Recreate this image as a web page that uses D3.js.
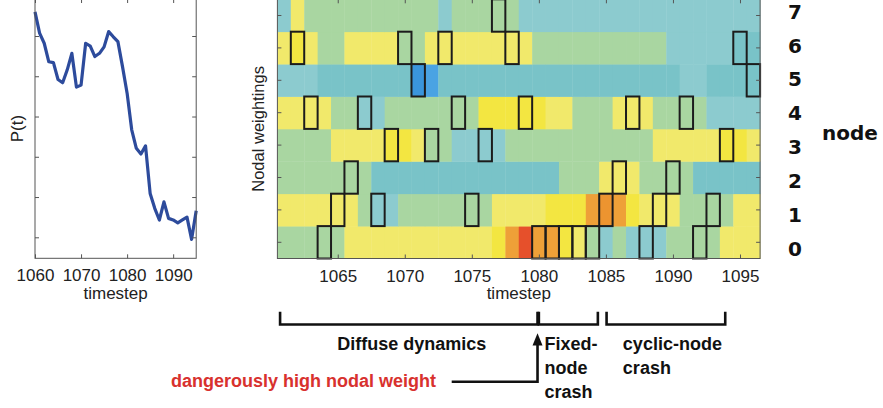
<!DOCTYPE html>
<html>
<head>
<meta charset="utf-8">
<script src="https://cdn.jsdelivr.net/npm/d3@7"></script>
<style>
  html, body { margin: 0; padding: 0; background: #fff; }
  svg { display: block; }
  text { font-family: "Liberation Sans", Arial, sans-serif; }
</style>
</head>
<body>
<svg id="chart" width="883" height="408"></svg>
<script>
// ---------- data ----------
// timesteps of the nodal-weight map
const timesteps = d3.range(1061, 1097);
const nodes = [0, 1, 2, 3, 4, 5, 6, 7];

// nodal weight per timestep (1061..1096), one array per node
const node0 = [0.40,0.40,0.40,0.40,0.40,0.55,0.55,0.55,0.55,0.55,0.55,0.55,0.55,0.55,0.55,0.55,0.62,0.80,0.95,0.80,0.80,0.62,0.55,0.40,0.25,0.40,0.25,0.25,0.25,0.40,0.40,0.40,0.40,0.55,0.55,0.55];
const node1 = [0.55,0.55,0.55,0.55,0.55,0.55,0.40,0.25,0.25,0.40,0.40,0.40,0.40,0.40,0.40,0.40,0.55,0.55,0.55,0.55,0.62,0.62,0.62,0.80,0.84,0.80,0.62,0.55,0.55,0.55,0.40,0.40,0.40,0.40,0.55,0.55];
const node2 = [0.40,0.40,0.40,0.40,0.40,0.40,0.40,0.20,0.20,0.20,0.20,0.20,0.20,0.20,0.20,0.20,0.20,0.20,0.20,0.20,0.20,0.40,0.40,0.40,0.55,0.55,0.55,0.40,0.40,0.40,0.40,0.20,0.20,0.20,0.20,0.20];
const node3 = [0.40,0.40,0.40,0.40,0.55,0.55,0.55,0.55,0.62,0.62,0.55,0.40,0.40,0.25,0.25,0.25,0.25,0.40,0.40,0.40,0.40,0.40,0.40,0.40,0.40,0.40,0.40,0.40,0.55,0.55,0.55,0.55,0.55,0.62,0.62,0.55];
const node4 = [0.55,0.55,0.55,0.55,0.40,0.40,0.25,0.25,0.40,0.40,0.40,0.40,0.40,0.40,0.40,0.62,0.62,0.62,0.62,0.62,0.55,0.55,0.40,0.40,0.40,0.55,0.55,0.55,0.40,0.40,0.40,0.40,0.25,0.25,0.25,0.25];
const node5 = [0.25,0.25,0.25,0.20,0.20,0.20,0.20,0.20,0.20,0.20,0.05,0.08,0.20,0.20,0.20,0.20,0.20,0.20,0.20,0.20,0.20,0.20,0.20,0.20,0.20,0.20,0.20,0.20,0.20,0.20,0.25,0.25,0.20,0.20,0.20,0.20];
const node6 = [0.55,0.62,0.55,0.40,0.40,0.55,0.55,0.55,0.55,0.40,0.40,0.55,0.55,0.55,0.55,0.55,0.55,0.55,0.55,0.40,0.40,0.40,0.40,0.40,0.40,0.40,0.40,0.40,0.40,0.25,0.25,0.25,0.25,0.25,0.20,0.20];
const node7 = [0.25,0.55,0.40,0.40,0.40,0.40,0.40,0.40,0.40,0.40,0.40,0.40,0.25,0.40,0.40,0.40,0.40,0.40,0.25,0.25,0.25,0.25,0.25,0.25,0.25,0.25,0.25,0.25,0.25,0.25,0.25,0.25,0.25,0.25,0.25,0.25];
const weights = [node0, node1, node2, node3, node4, node5, node6, node7];

// node outlined at each timestep (null: none)
const activeNode = [null,6,4,0,1,2,4,1,3,6,5,3,6,4,1,3,7,6,4,0,0,0,0,0,1,2,4,0,1,2,4,0,1,3,6,5];

// colour map for the weights
const weightStops  = [0.05, 0.08, 0.20, 0.25, 0.40, 0.55, 0.62, 0.80, 0.84, 0.95];
const weightColors = ["#3a95dc","#4aa3e3","#79c3c8","#8ccbcf","#a9d6a1","#f1e96b","#f3e641","#eea038","#ec9430","#e6502b"];

// P(t) for timesteps 1060..1095
const pTimesteps = d3.range(1060, 1096);
const pValues = [0.760,0.707,0.682,0.636,0.634,0.592,0.584,0.616,0.657,0.573,0.578,0.682,0.675,0.649,0.657,0.673,0.711,0.698,0.686,0.624,0.558,0.467,0.421,0.407,0.427,0.309,0.272,0.243,0.288,0.247,0.243,0.236,0.243,0.250,0.195,0.266];

// tick values
const pYTicks = [0.2, 0.3, 0.4, 0.5, 0.6, 0.7];
const pXTicks = [1060, 1070, 1080, 1090];
const mapXTicks = [1065, 1070, 1075, 1080, 1085, 1090, 1095];

// dynamical phases, as timestep spans
const phaseNames = [["Diffuse dynamics"], ["Fixed-", "node", "crash"], ["cyclic-node", "crash"]];
const phaseFrom = [1060.7, 1080.0, 1085.05];
const phaseTo   = [1079.9, 1084.4, 1093.9];
const warningText = "dangerously high nodal weight";

// ---------- drawing ----------
const svg = d3.select("#chart");
const frameColor = "#555";
const tickFont = 17;

function styleAxis(g) {
  g.select(".domain").remove();
  g.selectAll(".tick line").attr("stroke", frameColor);
  g.selectAll(".tick text")
    .attr("fill", "#222")
    .style("font-size", tickFont + "px")
    .style("font-family", "'Liberation Sans', Arial, sans-serif");
}

// ----- left panel: P(t) -----
const L = { left: 35, right: 196.2, top: -1, bottom: 258.3 };
const px = d3.scaleLinear().domain([1060, 1095]).range([L.left, L.right]);
const py = d3.scaleLinear().domain([0.2, 0.7]).range([237.3, 36]);

const left = svg.append("g");

left.append("path")
  .datum(pTimesteps.map((t, i) => [t, pValues[i]]))
  .attr("fill", "none")
  .attr("stroke", "#2d4b9c")
  .attr("stroke-width", 3.2)
  .attr("stroke-linejoin", "round")
  .attr("d", d3.line().x(d => px(d[0])).y(d => py(d[1])));

left.append("g").attr("transform", `translate(0,${L.bottom})`)
  .call(d3.axisBottom(px).tickValues(pXTicks).tickFormat(d3.format("d")).tickSize(-4).tickPadding(11))
  .call(styleAxis);
left.append("g").attr("transform", `translate(0,${L.top})`)
  .call(d3.axisTop(px).tickValues(pXTicks).tickFormat("").tickSize(-4))
  .call(styleAxis);
left.append("g").attr("transform", `translate(${L.left},0)`)
  .call(d3.axisLeft(py).tickValues(pYTicks).tickFormat("").tickSize(-4))
  .call(styleAxis);
left.append("g").attr("transform", `translate(${L.right},0)`)
  .call(d3.axisRight(py).tickValues(pYTicks).tickFormat("").tickSize(-4))
  .call(styleAxis);

left.append("rect")
  .attr("x", L.left).attr("y", L.top)
  .attr("width", L.right - L.left).attr("height", L.bottom - L.top)
  .attr("fill", "none").attr("stroke", frameColor).attr("stroke-width", 1);

left.append("text")
  .attr("transform", `translate(23,${(L.top + L.bottom) / 2}) rotate(-90)`)
  .attr("text-anchor", "middle")
  .style("font-size", "17px").attr("fill", "#222")
  .text("P(t)");

left.append("text")
  .attr("x", (L.left + L.right) / 2).attr("y", 299)
  .attr("text-anchor", "middle")
  .style("font-size", "17px").attr("fill", "#222")
  .text("timestep");

// ----- right panel: nodal-weight map -----
const M = { left: 277.4, right: 760.1, top: -0.7, bottom: 258.5 };
const mx = d3.scaleLinear().domain([1060.5, 1096.5]).range([M.left, M.right]);
const my = d3.scaleBand().domain(nodes.slice().reverse()).range([M.top, M.bottom]).padding(0);
const color = d3.scaleLinear().domain(weightStops).range(weightColors);

const map = svg.append("g");

const cells = [];
nodes.forEach(n => {
  timesteps.forEach((t, i) => cells.push({ node: n, t: t, w: weights[n][i] }));
});

map.append("g").selectAll("rect")
  .data(cells)
  .join("rect")
  .attr("x", d => mx(d.t - 0.5))
  .attr("y", d => my(d.node))
  .attr("width", d => mx(d.t + 0.5) - mx(d.t - 0.5) + 0.4)
  .attr("height", my.bandwidth() + 0.4)
  .attr("fill", d => color(d.w));

const marks = timesteps
  .map((t, i) => ({ t: t, node: activeNode[i] }))
  .filter(d => d.node !== null);

map.append("g").selectAll("rect")
  .data(marks)
  .join("rect")
  .attr("x", d => mx(d.t - 0.5))
  .attr("y", d => my(d.node))
  .attr("width", d => mx(d.t + 0.5) - mx(d.t - 0.5))
  .attr("height", my.bandwidth())
  .attr("fill", "none")
  .attr("stroke", "#1c1c1c")
  .attr("stroke-width", 2);

map.append("g").attr("transform", `translate(0,${M.bottom})`)
  .call(d3.axisBottom(mx).tickValues(mapXTicks).tickFormat(d3.format("d")).tickSize(-4).tickPadding(11))
  .call(styleAxis);
map.append("g").attr("transform", `translate(0,${M.top})`)
  .call(d3.axisTop(mx).tickValues(mapXTicks).tickFormat("").tickSize(-4))
  .call(styleAxis);
map.append("g").attr("transform", `translate(${M.left},0)`)
  .call(d3.axisLeft(my).tickFormat("").tickSize(-4))
  .call(styleAxis);
map.append("g").attr("transform", `translate(${M.right},0)`)
  .call(d3.axisRight(my).tickFormat("").tickSize(-4))
  .call(styleAxis);

map.append("rect")
  .attr("x", M.left).attr("y", M.top)
  .attr("width", M.right - M.left).attr("height", M.bottom - M.top)
  .attr("fill", "none").attr("stroke", frameColor).attr("stroke-width", 1);

map.append("text")
  .attr("transform", `translate(264,${(M.top + M.bottom) / 2}) rotate(-90)`)
  .attr("text-anchor", "middle")
  .style("font-size", "16.5px").attr("fill", "#222")
  .text("Nodal weightings");

map.append("text")
  .attr("x", (M.left + M.right) / 2).attr("y", 299)
  .attr("text-anchor", "middle")
  .style("font-size", "17px").attr("fill", "#222")
  .text("timestep");

// node numbers on the right
const labelY = d3.scalePoint().domain(nodes).range([248.3, 11.6]);
map.append("g").selectAll("text")
  .data(nodes)
  .join("text")
  .attr("x", 795)
  .attr("y", d => labelY(d))
  .attr("dy", "0.36em")
  .attr("text-anchor", "middle")
  .style("font-family", "'DejaVu Sans', Verdana, sans-serif")
  .style("font-weight", "bold")
  .style("font-size", "20px")
  .attr("fill", "#111")
  .text(d => d);

map.append("text")
  .attr("x", 822).attr("y", 140)
  .style("font-family", "'DejaVu Sans', Verdana, sans-serif")
  .style("font-weight", "bold")
  .style("font-size", "20px")
  .attr("fill", "#111")
  .text("node");

// ----- phase brackets and notes -----
const notes = svg.append("g");
const bracketTop = 311.7, bracketBase = 324.5;
const labelOffset = [null, 5.7, 16.3];
const lineBase = [350, 373.5, 398];

phaseNames.forEach((names, k) => {
  const x1 = mx(phaseFrom[k]), x2 = mx(phaseTo[k]);
  notes.append("path")
    .attr("d", `M${x1},${bracketTop}V${bracketBase}H${x2}V${bracketTop}`)
    .attr("fill", "none")
    .attr("stroke", "#111")
    .attr("stroke-width", 2.6);
  names.forEach((s, j) => {
    const t = notes.append("text")
      .attr("y", lineBase[j])
      .style("font-weight", "bold")
      .style("font-size", "18px")
      .attr("fill", "#111")
      .text(s);
    if (labelOffset[k] === null) {
      t.attr("x", (x1 + x2) / 2 + 3).attr("text-anchor", "middle");
    } else {
      t.attr("x", x1 + labelOffset[k]);
    }
  });
});

// warning note with arrow pointing at the end of the diffuse phase
const arrowX = mx(phaseTo[0]);
const arrowY = 381.7;
notes.append("text")
  .attr("x", 171).attr("y", 386.7)
  .style("font-weight", "bold")
  .style("font-size", "18px")
  .attr("fill", "#d8312e")
  .text(warningText);

notes.append("path")
  .attr("d", `M451.7,${arrowY}H${arrowX}V344`)
  .attr("fill", "none")
  .attr("stroke", "#111")
  .attr("stroke-width", 2.6);
notes.append("path")
  .attr("d", `M${arrowX},333.3L${arrowX - 5},345.5L${arrowX + 5},345.5Z`)
  .attr("fill", "#111");
</script>
</body>
</html>
